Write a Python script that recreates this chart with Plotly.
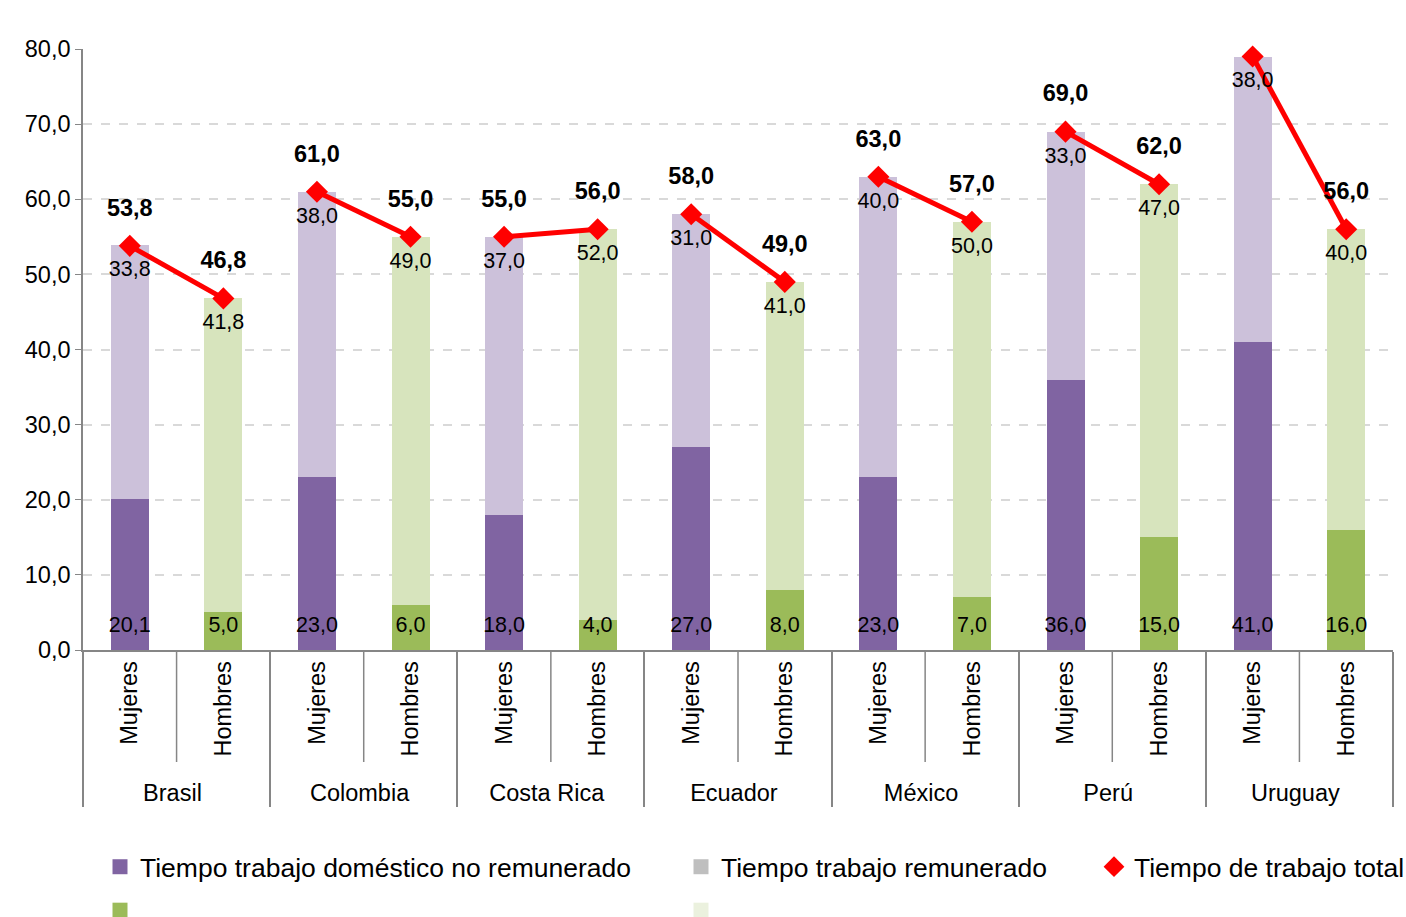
import plotly.graph_objects as go

countries = ["Brasil", "Colombia", "Costa Rica", "Ecuador", "México", "Perú", "Uruguay"]
sexes = ["Mujeres", "Hombres"]
unpaid_m = [20.1, 23.0, 18.0, 27.0, 23.0, 36.0, 41.0]
paid_m = [33.8, 38.0, 37.0, 31.0, 40.0, 33.0, 38.0]
unpaid_h = [5.0, 6.0, 4.0, 8.0, 7.0, 15.0, 16.0]
paid_h = [41.8, 49.0, 52.0, 41.0, 50.0, 47.0, 40.0]
total_m = [53.8, 61.0, 55.0, 58.0, 63.0, 69.0, 79.0]
total_h = [46.8, 55.0, 56.0, 49.0, 57.0, 62.0, 56.0]

C_PURPLE = "#8064A2"
C_LPURPLE = "#CCC1DA"
C_GREEN = "#9BBB59"
C_LGREEN = "#D7E4BD"
C_RED = "#FF0000"
C_GREY = "#BFBFBF"
FONT = "Liberation Sans"

x_all = [[c for c in countries for _ in sexes], [s for _ in countries for s in sexes]]
unpaid_all = [v for pair in zip(unpaid_m, unpaid_h) for v in pair]
paid_all = [v for pair in zip(paid_m, paid_h) for v in pair]
total_all = [v for pair in zip(total_m, total_h) for v in pair]
top_all = [u + p for u, p in zip(unpaid_all, paid_all)]
n = len(unpaid_all)

W, H = 1406, 917
L, R, T, B = 83, 13, 49, 267
PH = H - T - B

fig = go.Figure()

# stacked bars
fig.add_trace(go.Bar(x=x_all, y=unpaid_all,
                     marker=dict(color=[C_PURPLE, C_GREEN] * len(countries), line=dict(width=0)),
                     showlegend=False, hoverinfo="skip"))
fig.add_trace(go.Bar(x=x_all, y=paid_all,
                     marker=dict(color=[C_LPURPLE, C_LGREEN] * len(countries), line=dict(width=0)),
                     showlegend=False, hoverinfo="skip"))

# total line per country
for i, c in enumerate(countries):
    fig.add_trace(go.Scatter(x=[[c, c], sexes], y=[total_m[i], total_h[i]], mode="lines",
                             line=dict(color=C_RED, width=5), showlegend=False,
                             hoverinfo="skip", cliponaxis=False))
fig.add_trace(go.Scatter(x=x_all, y=total_all, mode="markers", name="Tiempo de trabajo total",
                         marker=dict(symbol="diamond", size=17, color=C_RED, line=dict(width=0)),
                         legend="legend3", legendgroup="e", cliponaxis=False))

# legend-only entries (no data drawn)
dummy_x = [[countries[0]], [sexes[0]]]
def legend_entry(name, color, legend, group):
    fig.add_trace(go.Scatter(x=dummy_x, y=[None], mode="markers", name=name,
                             marker=dict(symbol="square", size=15, color=color, line=dict(width=0)),
                             legend=legend, legendgroup=group, hoverinfo="skip"))

legend_entry("Tiempo trabajo doméstico no remunerado", C_PURPLE, "legend", "a")
legend_entry(" ", C_GREEN, "legend", "b")
legend_entry("Tiempo trabajo remunerado", C_GREY, "legend2", "c")
legend_entry(" ", "#EBF1DE", "legend2", "d")

def fmt(v):
    return f"{v:.1f}".replace(".", ",")

# labels
fig.add_trace(go.Scatter(x=x_all, y=[3.05] * n, mode="text",
                         text=[fmt(v) for v in unpaid_all], textposition="middle center",
                         textfont=dict(family=FONT, size=21.5, color="#000"),
                         showlegend=False, hoverinfo="skip", cliponaxis=False))
fig.add_trace(go.Scatter(x=x_all, y=[t - 3.4 for t in top_all], mode="text",
                         text=[fmt(v) for v in paid_all], textposition="middle center",
                         textfont=dict(family=FONT, size=21.5, color="#000"),
                         showlegend=False, hoverinfo="skip", cliponaxis=False))
fig.add_trace(go.Scatter(x=x_all, y=[t + 4.8 for t in total_all], mode="text",
                         text=[f"<b>{fmt(v)}</b>" for v in total_all], textposition="middle center",
                         textfont=dict(family=FONT, size=23.5, color="#000"),
                         showlegend=False, hoverinfo="skip", cliponaxis=False))

# short separators between Mujeres and Hombres
shapes = []
for i in range(len(countries)):
    xf = (2 * i + 1) / n
    shapes.append(dict(type="line", xref="paper", yref="paper", x0=xf, x1=xf,
                       y0=0, y1=-112 / PH, line=dict(color="#868686", width=1.5)))

leg_common = dict(orientation="v", font=dict(family=FONT, size=26.5, color="#000"),
                  bgcolor="rgba(0,0,0,0)", traceorder="grouped", tracegroupgap=6,
                  xref="container", yref="container", yanchor="top", xanchor="left",
                  itemclick=False, itemdoubleclick=False, maxheight=300, borderwidth=0)
leg_top = 1 - 843 / H

fig.update_layout(
    width=W, height=H,
    margin=dict(l=L, r=R, t=T, b=B, autoexpand=False),
    paper_bgcolor="white", plot_bgcolor="white",
    barmode="stack", bargap=0.594,
    separators=",.",
    font=dict(family=FONT, size=23.5, color="#000"),
    shapes=shapes,
    xaxis=dict(type="multicategory", tickangle=-90, showline=True, linecolor="#868686",
               linewidth=1.5, showdividers=True, dividercolor="#868686", dividerwidth=1.5,
               tickfont=dict(family=FONT, size=23.5, color="#000"), ticks="",
               range=[-0.5, n - 0.5], automargin=False),
    yaxis=dict(range=[0, 80], dtick=10, tickformat=".1f", showline=True, linecolor="#868686",
               linewidth=1.5, ticks="outside", ticklen=6, tickcolor="#868686",
               gridcolor="#D9D9D9", griddash="dash", gridwidth=1.5, zeroline=False,
               tickfont=dict(family=FONT, size=23.5, color="#000"), automargin=False),
    legend=dict(leg_common, x=100 / W, y=leg_top),
    legend2=dict(leg_common, x=681 / W, y=leg_top),
    legend3=dict(leg_common, x=1094 / W, y=leg_top),
)

fig.write_html("out.html", config={"displayModeBar": False},
               post_script="document.body.style.margin='0px';")
